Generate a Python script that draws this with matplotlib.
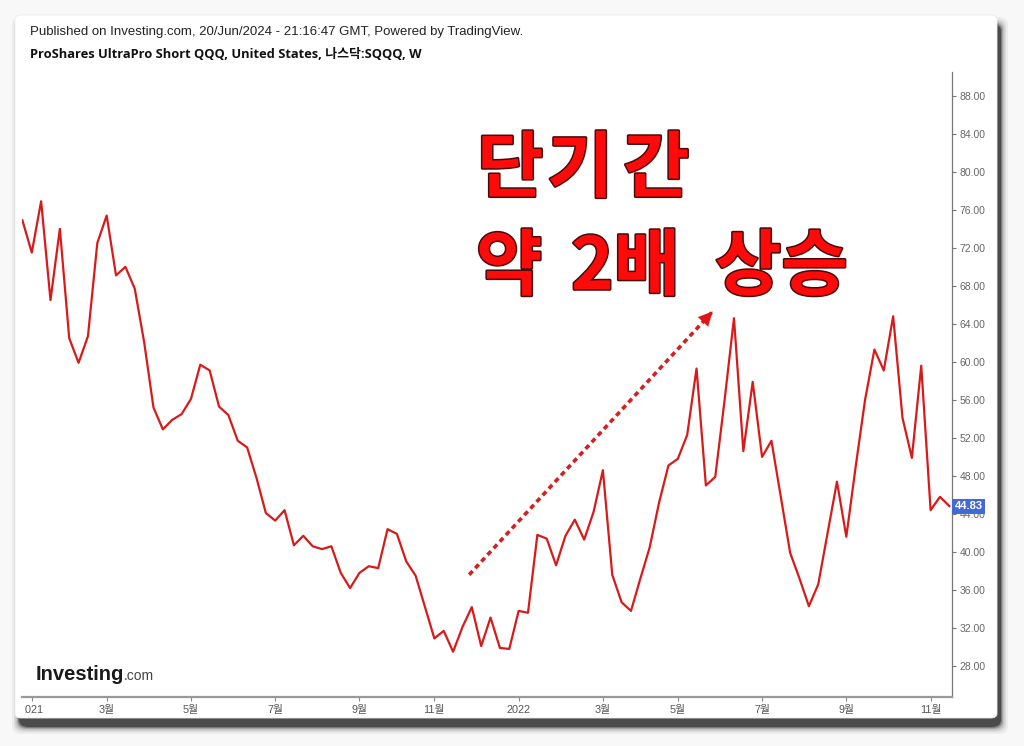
import numpy as np
import pandas as pd
import matplotlib
matplotlib.use("Agg")
import matplotlib.pyplot as plt
import matplotlib.patheffects as pe
from matplotlib.patches import FancyBboxPatch
from matplotlib.transforms import Bbox

plt.rcParams['font.family'] = ['Liberation Sans', 'Noto Sans CJK KR', 'DejaVu Sans']

# weekly closes, SQQQ
start_week = "2020-12-28"
closes = [74.9, 71.5, 76.9, 66.5, 74.0, 62.5, 59.9, 62.7, 72.5, 75.4,
          69.1, 70.0, 67.7, 62.1, 55.2, 52.9, 53.9, 54.5, 56.1, 59.7,
          59.1, 55.3, 54.4, 51.7, 51.0, 47.8, 44.1, 43.3, 44.4, 40.7,
          41.7, 40.6, 40.3, 40.6, 37.8, 36.2, 37.8, 38.5, 38.3, 42.4,
          41.9, 39.0, 37.5, 34.2, 30.9, 31.7, 29.5, 32.1, 34.2, 30.1,
          33.1, 29.9, 29.8, 33.8, 33.6, 41.8, 41.4, 38.6, 41.7, 43.4,
          41.3, 44.2, 48.6, 37.6, 34.7, 33.8, 37.2, 40.5, 45.2, 49.1,
          49.8, 52.3, 59.3, 47.0, 47.9, 56.0, 64.6, 50.6, 57.9, 50.0,
          51.7, 45.8, 39.9, 37.2, 34.3, 36.6, 42.0, 47.4, 41.6, 49.0,
          56.0, 61.3, 59.1, 64.8, 54.1, 49.9, 59.6, 44.4, 45.8, 44.83]
dates = pd.date_range(start_week, periods=len(closes), freq="7D")

tick_dates = ["2021-01-04", "2021-03-01", "2021-05-03", "2021-07-05", "2021-09-06",
              "2021-11-01", "2022-01-03", "2022-03-07", "2022-05-02", "2022-07-04",
              "2022-09-05", "2022-11-07"]
tick_labels = ["2021", "3월", "5월", "7월", "9월", "11월", "2022", "3월", "5월", "7월", "9월", "11월"]
y_ticks = np.arange(28, 89, 4)

# dotted arrow, (date, price)
arrow_from = ("2021-11-27", 37.6)
arrow_to = ("2022-05-28", 65.3)

W, H = 1024, 746
fig = plt.figure(figsize=(W / 100, H / 100), dpi=100, facecolor="#f8f8f8")

# card shadow (soft, bottom-right) + white card
cx, cy, cw, ch = 15, 15, 982, 703   # px, from top-left
for grow, a in [(7, 0.05), (5, 0.08), (3.5, 0.12), (2, 0.2), (1, 0.3), (0, 0.5)]:
    sh = FancyBboxPatch(((cx + 4 - grow) / W, 1 - (cy + ch + 9 + grow) / H),
                        (cw + 2 * grow) / W, (ch + 2 * grow) / H,
                        boxstyle="round,pad=0,rounding_size=0.01",
                        transform=fig.transFigure, facecolor="#1e1e1e", edgecolor="none",
                        alpha=a, zorder=-20)
    fig.add_artist(sh)
card = FancyBboxPatch((cx / W, 1 - (cy + ch) / H), cw / W, ch / H,
                      boxstyle="round,pad=0,rounding_size=0.006",
                      transform=fig.transFigure, facecolor="white", edgecolor="#ececec",
                      lw=0.6, zorder=-10)
fig.add_artist(card)

ax = fig.add_axes([22 / W, 1 - 697 / H, (952 - 22) / W, (697 - 72) / H])
ax.set_facecolor("none")
ax.plot(dates, closes, color="#d91a1a", lw=1.6, zorder=3)

ax.set_xlim(dates[0] - pd.Timedelta(days=0.3), dates[-1] + pd.Timedelta(days=2))
ax.set_ylim(24.74, 90.5)

ax.yaxis.tick_right()
ax.set_yticks(y_ticks)
ax.set_yticklabels([f"{v:.2f}" for v in y_ticks])
ax.set_xticks(pd.to_datetime(tick_dates))
ax.set_xticklabels(tick_labels)
ax.tick_params(axis="y", colors="#777777", labelcolor="#666666", labelsize=7.5,
               length=3, width=0.8, pad=2.5)
ax.tick_params(axis="x", colors="#888888", labelcolor="#555555", labelsize=7.8,
               length=3, width=0.8, pad=3)
for s in ["top", "left"]:
    ax.spines[s].set_visible(False)
ax.spines["right"].set_color("#777777")
ax.spines["right"].set_linewidth(0.9)
ax.spines["bottom"].set_color("#999999")
ax.spines["bottom"].set_linewidth(1.6)

# "2021" is cut by the left edge of the chart
clip = Bbox.from_extents(25, 0, W, H)
for lbl in ax.get_xticklabels():
    lbl.set_clip_box(clip)
    lbl.set_clip_on(True)

# last price tag
ax.text(1.003, closes[-1], f"{closes[-1]:.2f}", transform=ax.get_yaxis_transform(),
        ha="left", va="center", fontsize=8, color="white", fontweight="bold",
        bbox=dict(boxstyle="square,pad=0.22", fc="#4169d8", ec="none"), zorder=5, clip_on=False)

# dotted arrow: shaft + head
x0, y0 = pd.Timestamp(arrow_from[0]), arrow_from[1]
x1, y1 = pd.Timestamp(arrow_to[0]), arrow_to[1]
ax.plot([x0, x1], [y0, y1], color="#d42020", lw=2.6, linestyle=(0, (1.4, 1.1)),
        solid_capstyle="butt", zorder=4)
ax.annotate("", xy=(x1, y1), xytext=(x1 - (x1 - x0) * 0.06, y1 - (y1 - y0) * 0.06),
            arrowprops=dict(arrowstyle="-|>,head_length=1.0,head_width=0.5",
                            color="#e01515", lw=0.1, shrinkA=0, shrinkB=0), zorder=4)

# big annotation text
big = dict(fontsize=52, color="#ff0a0a", fontweight="bold",
           family=["Noto Sans CJK KR", "DejaVu Sans"],
           path_effects=[pe.withStroke(linewidth=2.2, foreground="#4a0a0a")])
for s, x in [("단", 477), ("기", 547), ("간", 623)]:
    fig.text(x / W, 1 - 170 / H, s, ha="left", va="center", **big)
for s, x in [("약", 476), ("2배", 571), ("상승", 715)]:
    fig.text(x / W, 1 - 268 / H, s, ha="left", va="center", **big)

# header
fig.text(30 / W, 1 - 32 / H, "Published on Investing.com, 20/Jun/2024 - 21:16:47 GMT, Powered by TradingView.",
         ha="left", va="center", fontsize=9.5, color="#222222")
fig.text(30 / W, 1 - 54 / H, "ProShares UltraPro Short QQQ, United States, 나스닥:SQQQ, W",
         ha="left", va="center", fontsize=9.3, color="#111111", fontweight="bold",
         family=["Open Sans", "Noto Sans CJK KR", "DejaVu Sans"])

# Investing.com logo
fig.text(36 / W, 1 - 674 / H, "Investing", ha="left", va="center", fontsize=14.5,
         fontweight="bold", color="#1a1a1a", family=["Liberation Sans"])
fig.text(124 / W, 1 - 676 / H, ".com", ha="left", va="center", fontsize=10,
         color="#444444", family=["Liberation Sans"])

fig.savefig("out.png", dpi=100, facecolor=fig.get_facecolor())
